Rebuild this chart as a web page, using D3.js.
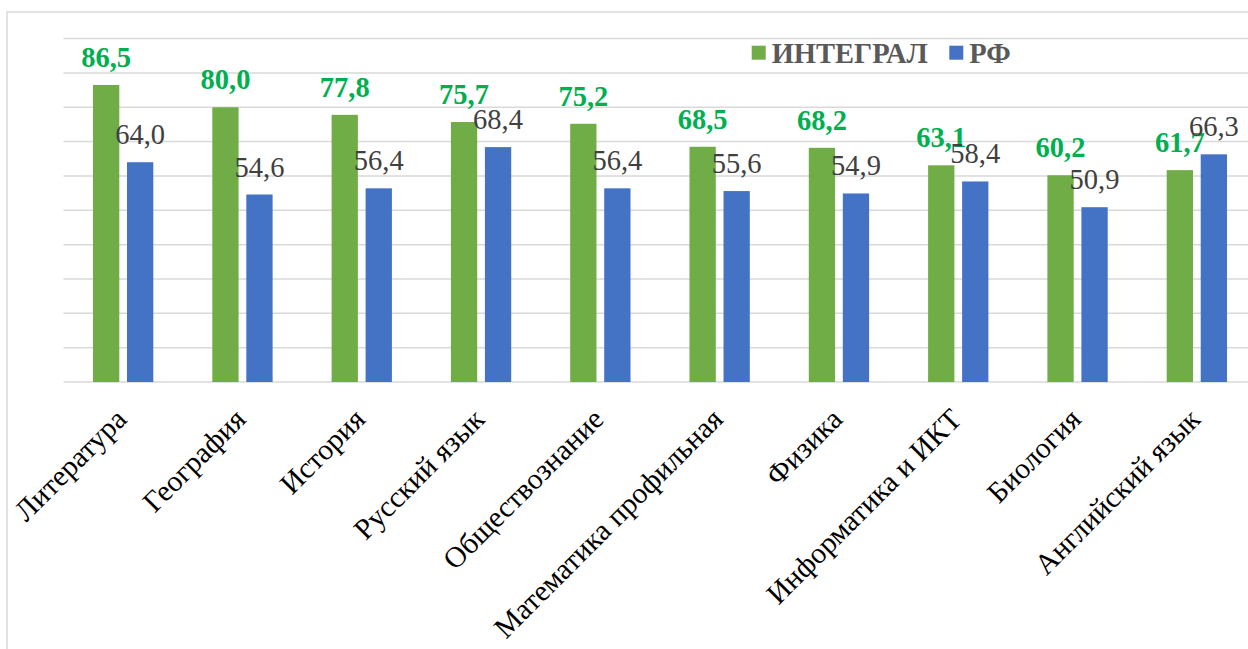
<!DOCTYPE html>
<html><head><meta charset="utf-8">
<script src="https://cdn.jsdelivr.net/npm/d3@7"></script>
<style>
html,body{margin:0;padding:0;background:#fff;overflow:hidden;}
svg{display:block;}
svg text{font-family:"Liberation Serif","Times New Roman",Tinos,Times,serif;}
</style></head>
<body>
<svg id="chart" width="1248" height="649"></svg>
<script>
const categories = ["Литература","География","История","Русский язык","Обществознание","Математика профильная","Физика","Информатика и ИКТ","Биология","Английский язык"];
const integral = [86.5,80.0,77.8,75.7,75.2,68.5,68.2,63.1,60.2,61.7];
const rf = [64.0,54.6,56.4,68.4,56.4,55.6,54.9,58.4,50.9,66.3];
const seriesNames = ["ИНТЕГРАЛ","РФ"];
const yTicks = [0,10,20,30,40,50,60,70,80,90,100];

const colors = ["#70AD47","#4472C4"];
const labelColors = ["#00B050","#404040"];

const svg = d3.select("#chart");
svg.append("rect").attr("x",7).attr("y",12).attr("width",1300).attr("height",700)
  .attr("fill","none").attr("stroke","#d9d9d9").attr("stroke-width",1.5);

const plotL = 63.5, plotR = 1256.5, baseY = 382, topY = 38.6;
const x0 = d3.scaleBand().domain(categories).range([plotL, plotR]).paddingInner(0.4945).paddingOuter(0.4945/2);
const x1 = d3.scaleBand().domain(seriesNames).range([0, x0.bandwidth()]).paddingInner(0.227).paddingOuter(0);
const y = d3.scaleLinear().domain([0,100]).range([baseY, topY]);

svg.append("g").selectAll("line").data(yTicks).join("line")
  .attr("x1", plotL).attr("x2", 1260)
  .attr("y1", d=>y(d)).attr("y2", d=>y(d))
  .attr("stroke","#d9d9d9").attr("stroke-width",1.5);

const data = categories.map((c,i)=>({cat:c, vals:[integral[i], rf[i]]}));

const groups = svg.append("g").selectAll("g").data(data).join("g")
  .attr("transform", d=>`translate(${x0(d.cat)},0)`);

groups.selectAll("rect").data(d=>d.vals.map((v,j)=>({v, s:seriesNames[j], j}))).join("rect")
  .attr("x", d=>x1(d.s)).attr("width", x1.bandwidth())
  .attr("y", d=>y(d.v)).attr("height", d=>baseY - y(d.v))
  .attr("fill", d=>colors[d.j]);

groups.selectAll("text.val").data(d=>d.vals.map((v,j)=>({v, s:seriesNames[j], j}))).join("text")
  .attr("class","val")
  .attr("x", d=>x1(d.s)+x1.bandwidth()/2)
  .attr("y", d=>y(d.v)-18)
  .attr("text-anchor","middle")
  .attr("font-size", 28.5)
  .attr("font-weight", d=>d.j===0?"bold":"normal")
  .attr("fill", d=>labelColors[d.j])
  .text(d=>d3.format(".1f")(d.v).replace(".",","));

svg.append("g").selectAll("text").data(categories).join("text")
  .attr("transform", d=>`translate(${x0(d)+x0.bandwidth()/2+5},${baseY+39}) rotate(-45)`)
  .attr("text-anchor","end")
  .attr("font-size", 29.5)
  .attr("fill","#000")
  .text(d=>d);

const legX = [751.7, 949.3];
const leg = svg.append("g").selectAll("g").data(seriesNames).join("g")
  .attr("transform",(d,i)=>`translate(${legX[i]},45.7)`);
leg.append("rect").attr("width",14).attr("height",14).attr("fill",(d,i)=>colors[i]);
leg.append("text").attr("x",20).attr("y",17.5)
  .attr("font-size",28.5).attr("font-weight","bold")
  .attr("fill","#595959").text(d=>d);
</script>
</body></html>
